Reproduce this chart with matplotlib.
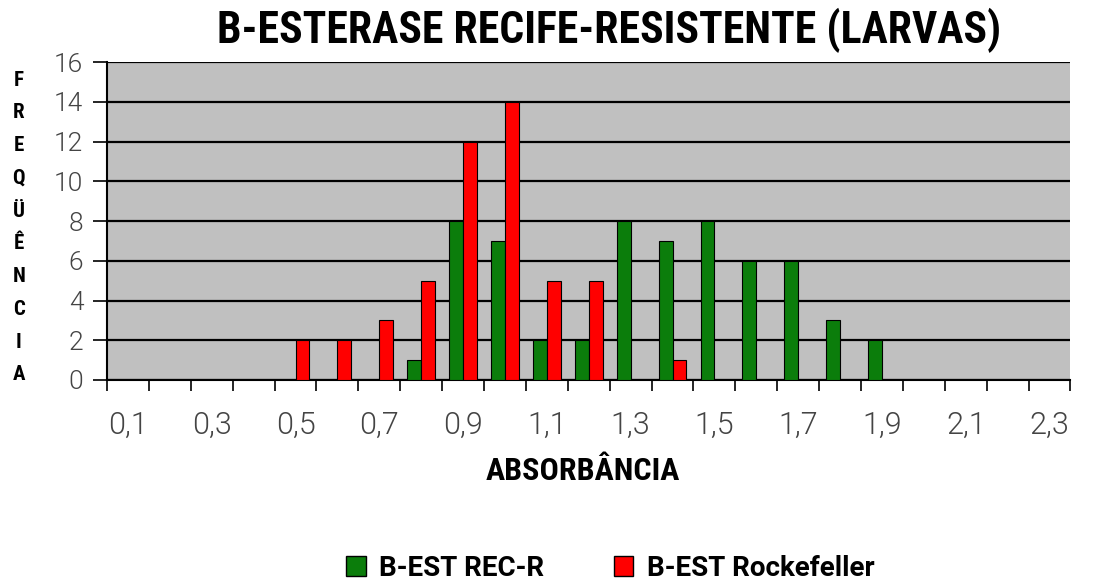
import numpy as np
import matplotlib
matplotlib.use("Agg")
import matplotlib.pyplot as plt
from matplotlib.patches import Patch

# categories (absorbance classes)
categorias = ["0,1", "0,2", "0,3", "0,4", "0,5", "0,6", "0,7", "0,8", "0,9", "1,0",
              "1,1", "1,2", "1,3", "1,4", "1,5", "1,6", "1,7", "1,8", "1,9", "2,0",
              "2,1", "2,2", "2,3"]
rec_r = [0, 0, 0, 0, 0, 0, 0, 1, 8, 7, 2, 2, 8, 7, 8, 6, 6, 3, 2, 0, 0, 0, 0]
rockefeller = [0, 0, 0, 0, 2, 2, 3, 5, 12, 14, 5, 5, 0, 1, 0, 0, 0, 0, 0, 0, 0, 0, 0]
y_ticks = [0, 2, 4, 6, 8, 10, 12, 14, 16]

titulo = "B-ESTERASE RECIFE-RESISTENTE (LARVAS)"
ylabel = "FREQÜÊNCIA"
xlabel = "ABSORBÂNCIA"
nomes = ["B-EST REC-R", "B-EST Rockefeller"]

verde = "#0b7d0b"
vermelho = "#ff0000"
fonte = ["Roboto Condensed", "DejaVu Sans"]
fonte_larga = ["Roboto", "DejaVu Sans"]

fig = plt.figure(figsize=(11.1, 5.81), dpi=100)
ax = fig.add_axes([0.0964, 0.346, 0.868, 0.547])
ax.set_facecolor("#c0c0c0")

x = np.arange(len(categorias))
w = 0.33
ax.bar(x - w / 2, rec_r, w, color=verde, edgecolor="black", linewidth=0.8, zorder=3)
ax.bar(x + w / 2, rockefeller, w, color=vermelho, edgecolor="black", linewidth=0.8, zorder=3)

ax.set_xlim(-0.5, len(categorias) - 0.5)
ax.set_ylim(0, 16)
ax.set_yticks(y_ticks)
ax.yaxis.grid(True, color="black", linewidth=1.6, zorder=1)
ax.set_axisbelow(True)

# labels every other category, tick marks on category boundaries
ax.set_xticks(x[::2])
ax.set_xticklabels(categorias[::2])
ax.set_xticks(np.arange(-0.5, len(categorias)), minor=True)
ax.tick_params(axis="x", which="major", length=0, pad=22, labelsize=22, labelcolor="#444444")
ax.tick_params(axis="x", which="minor", length=8, width=1.2, direction="out", color="black")
ax.tick_params(axis="y", length=10, width=1.2, direction="out", labelsize=19,
               labelcolor="#444444", pad=7)
for lab in ax.get_xticklabels() + ax.get_yticklabels():
    lab.set_family(fonte_larga)
    lab.set_fontweight(300)

for s in ["top", "right"]:
    ax.spines[s].set_visible(False)
ax.spines["left"].set_linewidth(1.5)
ax.spines["bottom"].set_linewidth(1.5)

fig.text(0.549, 0.947, titulo, ha="center", va="center", fontsize=31.5,
         fontweight="bold", family=fonte)

# stacked vertical y label
letras = list(ylabel)
ys = np.linspace(0.862, 0.355, len(letras))
for letra, yy in zip(letras, ys):
    fig.text(0.017, yy, letra, ha="center", va="center", fontsize=15,
             fontweight="bold", family=fonte)

fig.text(0.525, 0.189, xlabel, ha="center", va="center", fontsize=23,
         fontweight="bold", family=fonte)

handles = [Patch(facecolor=verde, edgecolor="black"),
           Patch(facecolor=vermelho, edgecolor="black")]
fig.legend(handles, nomes, loc="center", bbox_to_anchor=(0.55, 0.022), ncol=2,
           frameon=False, columnspacing=2.5, handlelength=0.7, handleheight=0.7,
           handletextpad=0.5,
           prop={"family": fonte_larga, "weight": "bold", "size": 20})

fig.savefig("out.png", dpi=100)
